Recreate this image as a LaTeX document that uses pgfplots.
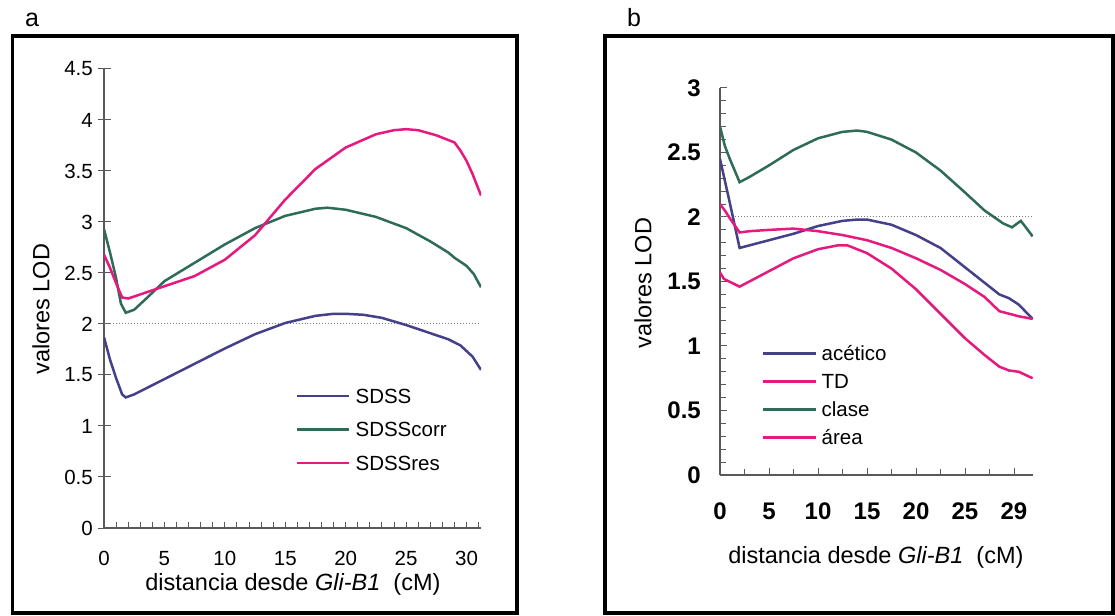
\documentclass[border=0pt]{standalone}
\usepackage{fontspec}
\setmainfont{Liberation Sans}
\usepackage{pgfplots}
\pgfplotsset{compat=1.18}
\definecolor{cpur}{HTML}{45408A}
\definecolor{cgrn}{HTML}{2E6B58}
\definecolor{cpnk}{HTML}{E6197E}
\begin{document}
\begin{tikzpicture}
\useasboundingbox (0,0) rectangle (1115bp,616bp);
\fill[white] (0,0) rectangle (1115bp,616bp);
% ---------------- panel a ----------------
\begin{axis}[
  at={(104bp,88bp)}, anchor=south west,
  width=377bp, height=459bp, scale only axis,
  xmin=0, xmax=31.2, ymin=0, ymax=4.5,
  axis x line*=bottom, axis y line*=left,
  axis line style={-, black!65, line width=1.2bp},
  xtick={0,5,10,15,20,25,30},
  minor xtick={0,1,...,31},
  ytick={0,0.5,1,1.5,2,2.5,3,3.5,4,4.5},
  tick align=inside, major tick length=13bp, minor tick length=6bp,
  major x tick style={draw=none},
  major y tick style={xshift=-6.5bp},
  tick style={black!65, line width=1bp},
  /pgf/number format/assume math mode=true,
  /pgf/number format/fixed,
  ticklabel style={font=\fontsize{20.5bp}{24bp}\selectfont, inner sep=0pt},
  xticklabel style={yshift=-23bp},
  yticklabel style={xshift=-11bp},
  xlabel={distancia desde \textit{Gli-B1}\ \ (cM)},
  xlabel style={at={(axis description cs:0.501,-0.122)}, anchor=center, font=\fontsize{23.5bp}{28bp}\selectfont},
  ylabel={valores LOD},
  ylabel style={at={(axis description cs:-0.167,0.477)}, rotate=0, anchor=center, font=\fontsize{23.5bp}{28bp}\selectfont},
  legend style={at={(axis description cs:0.509,0.303)}, anchor=north west, draw=none, fill=none, inner sep=0pt,
    row sep=19.5bp, column sep=5bp, font=\fontsize{20.5bp}{24bp}\selectfont,
    nodes={inner sep=0pt, text height=14bp, text depth=0bp}},
  legend cell align=left,
  legend image code/.code={\draw[#1,line width=2.5bp] (0bp,0bp) -- (52bp,0bp);},
]
\addplot[gray, dotted, line width=1bp, forget plot] coordinates {(0,2) (31.2,2)};
\addplot[cpur, line width=2.5bp] coordinates {
(0,1.87) (0.5,1.65) (1,1.47) (1.5,1.31) (1.8,1.28) (2.5,1.31) (3.5,1.37) (5,1.46) (7.5,1.61) (10,1.76) (12.5,1.90) (15,2.01) (17.5,2.08) (19,2.10) (20,2.10) (21.5,2.09) (23,2.06) (25,1.99) (27,1.91) (28.5,1.85) (29.5,1.79) (30.5,1.68) (31.2,1.55)};
\addlegendentry{SDSS}
\addplot[cgrn, line width=2.5bp] coordinates {
(0,2.93) (0.5,2.70) (1,2.45) (1.4,2.20) (1.8,2.11) (2.5,2.14) (3.5,2.25) (5,2.42) (7.5,2.60) (10,2.78) (12.5,2.94) (15,3.06) (17.5,3.13) (18.5,3.14) (20,3.12) (22.5,3.05) (25,2.94) (27,2.81) (28.5,2.70) (29,2.65) (30,2.57) (30.6,2.49) (31.2,2.36)};
\addlegendentry{SDSScorr}
\addplot[cpnk, line width=2.5bp] coordinates {
(0,2.68) (0.5,2.55) (1,2.40) (1.5,2.26) (2,2.25) (3,2.29) (4,2.33) (5,2.37) (7.5,2.47) (10,2.63) (12.5,2.87) (15,3.22) (17.5,3.52) (20,3.73) (22.5,3.86) (24,3.90) (25,3.91) (26,3.90) (27.5,3.85) (29,3.78) (29.5,3.70) (30,3.60) (30.5,3.47) (31.2,3.26)};
\addlegendentry{SDSSres}
\end{axis}
% ---------------- panel b ----------------
\begin{axis}[
  at={(720bp,141bp)}, anchor=south west,
  width=313bp, height=387bp, scale only axis,
  xmin=0, xmax=31.94, ymin=0, ymax=3,
  axis x line*=bottom, axis y line*=left,
  axis line style={-, black!65, line width=1.2bp},
  xtick={0,5,10,15,20,25,30},
  xticklabels={0,5,10,15,20,25,29},
  minor x tick num=1,
  ytick={0,0.5,1,1.5,2,2.5,3},
  minor y tick num=4,
  tick align=inside, major tick length=7bp, minor tick length=6bp,
  tick style={black!65, line width=1bp},
  /pgf/number format/assume math mode=true,
  /pgf/number format/fixed,
  ticklabel style={font=\fontsize{24bp}{28bp}\bfseries\selectfont, inner sep=0pt},
  xticklabel style={yshift=-28bp},
  yticklabel style={xshift=-19bp},
  xlabel={distancia desde \textit{Gli-B1}\ \ (cM)},
  xlabel style={at={(axis description cs:0.498,-0.214)}, anchor=center, font=\fontsize{23.5bp}{28bp}\selectfont},
  ylabel={valores LOD},
  ylabel style={at={(axis description cs:-0.246,0.496)}, rotate=0, anchor=center, font=\fontsize{23.5bp}{28bp}\selectfont},
  legend style={at={(axis description cs:0.134,0.333)}, anchor=north west, draw=none, fill=none, inner sep=0pt,
    row sep=14bp, column sep=4bp, font=\fontsize{20.5bp}{24bp}\selectfont,
    nodes={inner sep=0pt, text height=14bp, text depth=0bp}},
  legend cell align=left,
  legend image code/.code={\draw[#1,line width=2.5bp] (0bp,0bp) -- (53bp,0bp);},
]
\addplot[gray, dotted, line width=1bp, forget plot] coordinates {(0,2) (31.9,2)};
\addplot[cpur, line width=2.5bp] coordinates {
(0,2.45) (0.5,2.28) (1,2.11) (2,1.76) (3,1.78) (5,1.82) (7.5,1.87) (10,1.93) (12.5,1.97) (14,1.98) (15,1.98) (17.5,1.94) (20,1.86) (22.5,1.76) (25,1.61) (27,1.49) (28.5,1.40) (29.5,1.37) (30.5,1.32) (31.9,1.21)};
\addlegendentry{acético}
\addplot[cpnk, line width=2.5bp] coordinates {
(0,2.10) (0.5,2.05) (1,1.99) (2,1.88) (3,1.89) (5,1.90) (7.5,1.91) (10,1.89) (12.5,1.86) (15,1.82) (17.5,1.76) (20,1.68) (22.5,1.59) (25,1.48) (27,1.38) (28.5,1.27) (29.5,1.25) (30.5,1.23) (31.9,1.21)};
\addlegendentry{TD}
\addplot[cgrn, line width=2.5bp] coordinates {
(0,2.70) (0.5,2.55) (1,2.45) (2,2.27) (3,2.31) (5,2.40) (7.5,2.52) (10,2.61) (12.5,2.66) (14,2.67) (15,2.66) (17.5,2.60) (20,2.50) (22.5,2.36) (25,2.19) (27,2.05) (28.9,1.95) (29.8,1.92) (30.7,1.97) (31.9,1.85)};
\addlegendentry{clase}
\addplot[cpnk, line width=2.5bp] coordinates {
(0,1.57) (0.4,1.52) (2,1.46) (3,1.50) (5,1.58) (7.5,1.68) (10,1.75) (12,1.78) (13,1.78) (15,1.72) (17.5,1.60) (20,1.44) (22.5,1.25) (25,1.06) (27,0.93) (28.5,0.84) (29.5,0.81) (30.5,0.80) (31.9,0.75)};
\addlegendentry{área}
\end{axis}
% frames and panel letters
\draw[line width=3.5bp] (12.5bp,3bp) rectangle (517bp,580bp);
\draw[line width=3.5bp] (605bp,3bp) rectangle (1113bp,580bp);
\node[anchor=base, font=\fontsize{25bp}{30bp}\selectfont] at (32bp,589bp) {a};
\node[anchor=base, font=\fontsize{25bp}{30bp}\selectfont] at (634bp,589bp) {b};
\end{tikzpicture}
\end{document}
